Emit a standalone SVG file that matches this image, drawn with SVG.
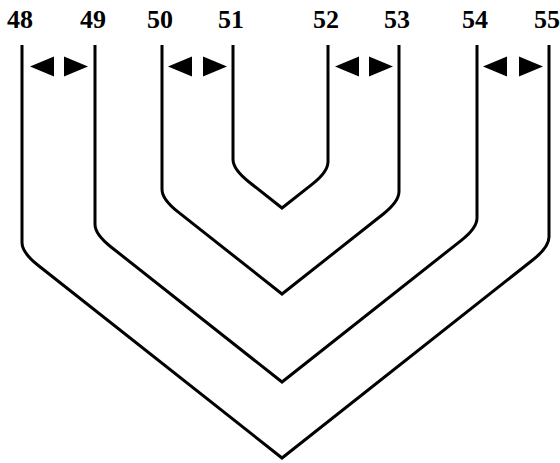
<svg xmlns="http://www.w3.org/2000/svg" width="560" height="463" viewBox="0 0 560 463">
<style>
.lbl{font-family:"Liberation Serif","Times New Roman",serif;font-weight:bold;font-size:26px;fill:#000;text-anchor:middle}
.ln{fill:none;stroke:#000;stroke-width:3;stroke-linejoin:miter}
.ar{fill:#000}
</style>
<defs>
<path id="la" d="M0,0 L24,-10 L24,10 Z"/>
<path id="ra" d="M0,0 L-24,-10 L-24,10 Z"/>
</defs>
<rect width="560" height="463" fill="#fff"/>
<g id="labels">
<text class="lbl" x="20" y="28">48</text>
<text class="lbl" x="93" y="28">49</text>
<text class="lbl" x="160" y="28">50</text>
<text class="lbl" x="231" y="28">51</text>
<text class="lbl" x="326" y="28">52</text>
<text class="lbl" x="397" y="28">53</text>
<text class="lbl" x="475" y="28">54</text>
<text class="lbl" x="547" y="28">55</text>
</g>
<g id="connectors">
<path id="c48-55" class="ln" d="M22,45 V242.6 Q22,252.6 37.7,265 L282,458 L533.3,259.5 Q549,247.1 549,237.1 V45"/>
<path id="c49-54" class="ln" d="M95,45 V224.3 Q95,234.3 110.7,246.7 L282,382 L461.3,240.35 Q477,227.95 477,217.95 V45"/>
<path id="c50-53" class="ln" d="M162,45 V189.2 Q162,199.2 177.7,211.6 L282,294 L383.3,214 Q399,201.6 399,191.6 V45"/>
<path id="c51-52" class="ln" d="M233,45 V159.3 Q233,169.3 248.7,181.7 L282,208 L312.3,184.1 Q328,171.7 328,161.7 V45"/>
</g>
<g id="arrows" class="ar">
<use href="#la" x="30" y="66.5"/>
<use href="#ra" x="88" y="66.5"/>
<use href="#la" x="168" y="66.5"/>
<use href="#ra" x="227" y="66.5"/>
<use href="#la" x="335" y="66.5"/>
<use href="#ra" x="393" y="66.5"/>
<use href="#la" x="483" y="66.5"/>
<use href="#ra" x="543" y="66.5"/>
</g>
</svg>
